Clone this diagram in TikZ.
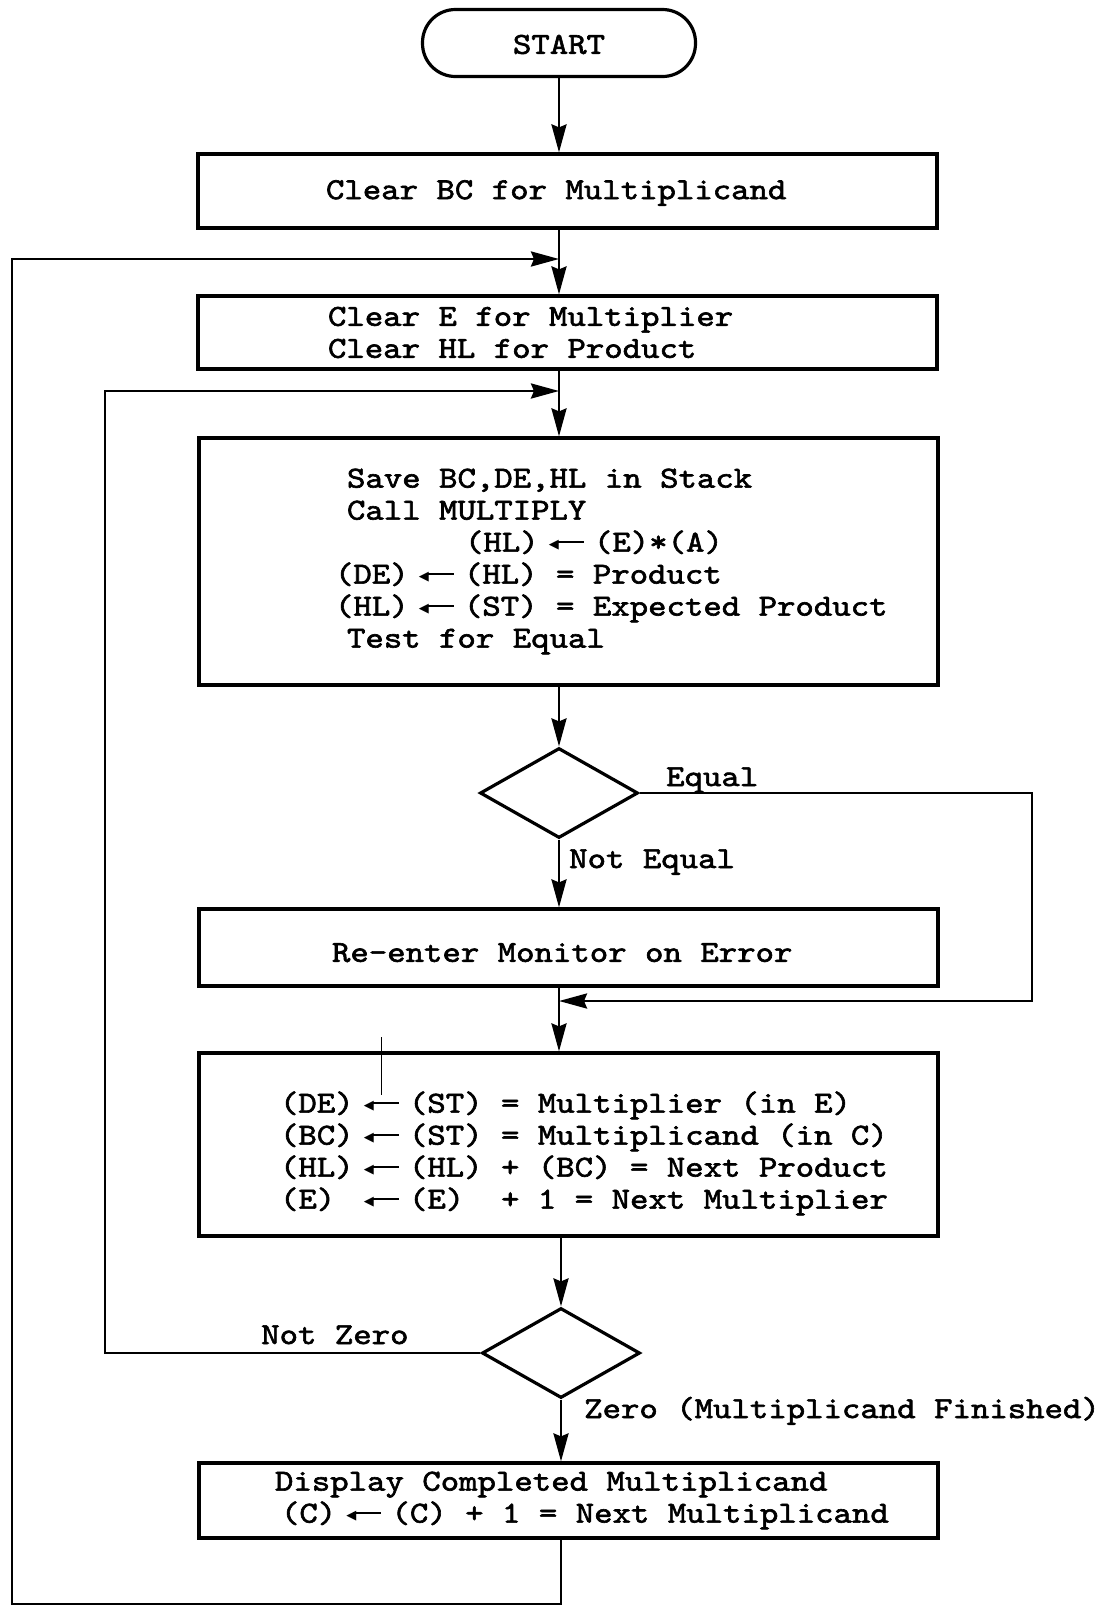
\documentclass[tikz,border=0pt]{standalone}
\usepackage{fontspec}
\newfontfamily\tw{lmmono10-regular.otf}[FakeStretch=1.15,FakeBold=2]
\newfontfamily\dv{DejaVu Sans}
\usetikzlibrary{arrows.meta,shapes.geometric}
\newcommand\tarr{\makebox[55.3pt][c]{\raisebox{3.5pt}{\dv\fontsize{13}{13}\selectfont ◀}\kern-3pt\rule[8.2pt]{28pt}{2.4pt}}}
\newcommand\ind[1]{\hspace*{#1pt}}
\newcommand\fixsp{\spaceskip=18.44pt\relax\xspaceskip=18.44pt\relax}
\tikzset{
  box/.style={draw, line width=3.2pt, text width=739pt, inner xsep=0pt, inner ysep=0pt, align=left},
  term/.style={draw, line width=3.2pt, rounded corners=33pt, minimum width=273pt, minimum height=67pt, inner sep=0pt},
  dec/.style={draw, diamond, line width=3.2pt, minimum width=158pt, minimum height=90pt, inner sep=0pt},
  flow/.style={line width=2.8pt},
  arr/.style={flow, -{Stealth[length=28pt,width=15pt,inset=3pt]}},
  lbl/.style={inner sep=0pt, anchor=base west},
  every node/.append style={execute at begin node=\fixsp}
}
\begin{document}
\begin{tikzpicture}[x=1pt,y=-1pt,font=\tw\fontsize{30.5}{32}\selectfont]
\useasboundingbox (0,0) rectangle (1105,1607);
\node[term] (start) at (559,43) {\rule{0pt}{22pt}START};
\node[box, minimum height=74pt] (b1) at (567.5,191) {\ind{128}\rule{0pt}{23pt}Clear BC for Multiplicand};
\node[box, minimum height=73pt] (b2) at (567.5,332.5) {\ind{130}Clear E for Multiplier\\\ind{130}Clear HL for Product};
\node[box, minimum height=247pt] (b3) at (568.5,561.5) {\ind{148}Save BC,DE,HL in Stack\\
\ind{148}Call MULTIPLY\\
\ind{266}(HL)\tarr(E)*(A)\\
\ind{136}(DE)\tarr(HL) = Product\\
\ind{136}(HL)\tarr(ST) = Expected Product\\
\ind{148}Test for Equal};
\node[dec] (d1) at (559,793) {};
\node[box, minimum height=77pt] (b4) at (568.5,947.5) {\ind{133}\rule{0pt}{29pt}Re-enter Monitor on Error};
\node[box, minimum height=183pt] (b5) at (568.5,1144.5) {\ind{81}\rule{0pt}{39pt}(DE)\tarr(ST) = Multiplier (in E)\\
\ind{81}(BC)\tarr(ST) = Multiplicand (in C)\\
\ind{81}(HL)\tarr(HL) + (BC) = Next Product\\
\ind{81}(E)\ \tarr(E)\ \ + 1 = Next Multiplier};
\node[dec] (d2) at (561,1353) {};
\node[box, minimum height=75pt] (b6) at (568.5,1500.5) {\ind{76}Display Completed Multiplicand\\
\ind{82}(C)\tarr(C) + 1 = Next Multiplicand};
% labels
\node[lbl] (leq) at (666,786) {Equal};
\node[lbl] (lneq) at (569,868) {Not Equal};
\node[lbl] (lnz) at (261,1344) {Not Zero};
\node[lbl] (lz) at (584,1418) {Zero (Multiplicand Finished)};
% coordinates for loops
\coordinate (eq) at (1032,1001);
\coordinate (nz) at (105,391);
\coordinate (lp1) at (12,1604);
\coordinate (lp2) at (12,259);
% main flow
\draw[arr] (start.south) -- (start.south |- b1.north);
\draw[arr] (b1.south -| start) -- (b2.north -| start);
\draw[arr] (b2.south -| start) -- (b3.north -| start);
\draw[arr] (b3.south -| start) -- (d1.north);
\draw[arr] (d1.south) -- (b4.north -| d1);
\draw[arr] (b4.south -| d1) -- (b5.north -| d1);
\draw[arr] (b5.south -| d2) -- (d2.north);
\draw[arr] (d2.south) -- (b6.north -| d2);
% branches
\draw[arr] (d1.east) -| (eq) -- (eq -| d1);
\draw[arr] (d2.west) -| (nz) -- (nz -| start);
\draw[arr] (b6.south -| d2) |- (lp1) -- (lp2) -- (lp2 -| start);
% stray mark
\draw[line width=1pt] (381,1037) -- (381,1095);
\end{tikzpicture}
\end{document}
